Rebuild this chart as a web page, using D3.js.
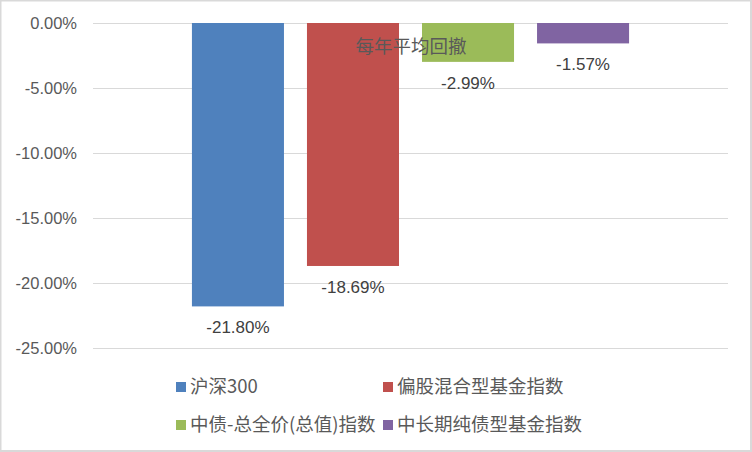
<!DOCTYPE html>
<html><head><meta charset="utf-8">
<script src="https://cdn.jsdelivr.net/npm/d3@7"></script>
<style>body{margin:0;background:#fff}svg{display:block}</style>
</head><body>
<script>
const series = ["沪深300","偏股混合型基金指数","中债-总全价(总值)指数","中长期纯债型基金指数"];
const values = [-21.80,-18.69,-2.99,-1.57];
const colors = ["#4f81bd","#c0504d","#9bbb59","#8064a2"];
const ticks = [0,-5,-10,-15,-20,-25];
const title = "每年平均回撤";

const W=752,H=452;
const svg=d3.select("body").append("svg").attr("width",W).attr("height",H);
svg.append("rect").attr("x",0.5).attr("y",0.5).attr("width",W-1.5).attr("height",H-1.5)
  .attr("fill","#fff").attr("stroke","#d9d9d9").attr("stroke-width",2);

const y=d3.scaleLinear().domain([0,-25]).range([23,348]);
const x=d3.scaleBand().domain(series).range([93,728]).paddingInner(0.2).paddingOuter(0.86);
const font="'Liberation Sans', 'Noto Sans CJK SC', sans-serif";

const yAxis=d3.axisLeft(y).tickValues(ticks).tickSize(-(728-93)).tickFormat(d=>d.toFixed(2)+"%");
const g=svg.append("g").attr("transform","translate(93,0)").call(yAxis);
g.select(".domain").remove();
g.selectAll(".tick line").attr("stroke","#d9d9d9").attr("stroke-width",1);
g.selectAll(".tick text").attr("x",-16).attr("fill","#595959").style("font-family",font).style("font-size","16.5px");

svg.selectAll("rect.bar").data(values).enter().append("rect").attr("class","bar")
  .attr("x",(d,i)=>x(series[i])).attr("width",x.bandwidth())
  .attr("y",y(0)).attr("height",d=>y(d)-y(0)).attr("fill",(d,i)=>colors[i]);

svg.selectAll("text.lab").data(values).enter().append("text").attr("class","lab")
  .attr("x",(d,i)=>x(series[i])+x.bandwidth()/2).attr("y",d=>y(d)+21).attr("dy","0.35em")
  .attr("text-anchor","middle").attr("fill","#404040").style("font-family",font).style("font-size","17px")
  .text(d=>d.toFixed(2)+"%");

svg.append("text").attr("x",411).attr("y",47).attr("dy","0.35em").attr("text-anchor","middle")
  .attr("fill","#595959").style("font-family","'Noto Sans CJK SC', sans-serif").style("font-size","18.5px").text(title);

const legPos=[[176,387],[383,387],[176,425],[383,425]];
const lg=svg.selectAll("g.leg").data(series).enter().append("g").attr("class","leg")
  .attr("transform",(d,i)=>`translate(${legPos[i][0]},${legPos[i][1]})`);
lg.append("rect").attr("x",0).attr("y",-5).attr("width",10).attr("height",10).attr("fill",(d,i)=>colors[i]);
lg.append("text").attr("x",14).attr("y",0).attr("dy","0.35em").attr("fill","#595959")
  .style("font-family","'Noto Sans CJK SC', sans-serif").style("font-size","18.5px").text(d=>d);
</script>
</body></html>
